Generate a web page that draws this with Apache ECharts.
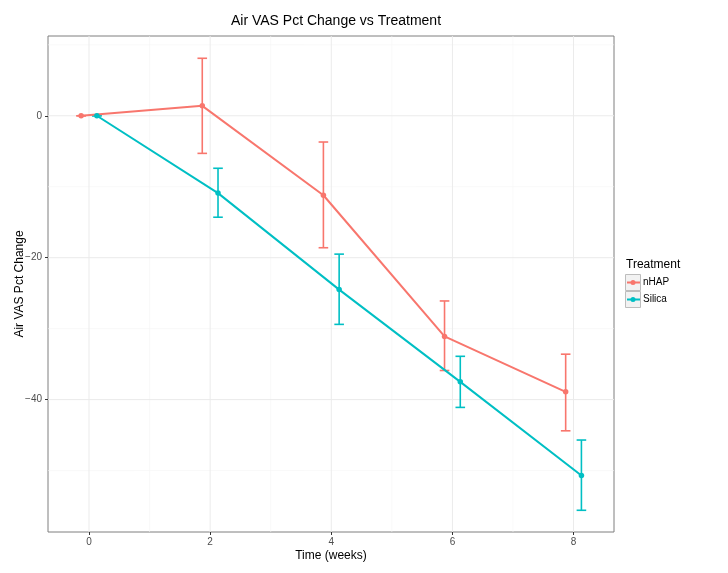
<!DOCTYPE html>
<html>
<head>
<meta charset="utf-8">
<script src="https://cdn.jsdelivr.net/npm/echarts@6/dist/echarts.min.js"></script>
<style>html,body{margin:0;padding:0;background:#fff}#c{width:728px;height:573px}</style>
</head>
<body>
<div id="c"></div>
<script>
// ---- data ----
const weeks = [0, 2, 4, 6, 8];
const treatments = ['nHAP', 'Silica'];
const nhapMean = [0, 1.4, -11.2, -31.1, -38.9];
const nhapLow  = [0, -5.3, -18.6, -35.9, -44.4];
const nhapHigh = [0, 8.1, -3.7, -26.1, -33.6];
const silicaMean = [0, -10.9, -24.5, -37.5, -50.7];
const silicaLow  = [0, -14.3, -29.4, -41.1, -55.6];
const silicaHigh = [0, -7.4, -19.5, -33.9, -45.7];
const xTicks = [0, 2, 4, 6, 8];
const xMinor = [1, 3, 5, 7];
const yTicks = [0, -20, -40];
const yMinor = [10, -10, -30, -50];

// ---- config ----
const colors = ['#F8766D', '#00BFC4'];
const dodge = [-0.13, 0.13];
const font = '"Liberation Sans", Arial, sans-serif';
const means = [nhapMean, silicaMean];
const lows = [nhapLow, silicaLow];
const highs = [nhapHigh, silicaHigh];

const gridData = [];
xMinor.forEach(v => gridData.push([v, 0, 0]));
yMinor.forEach(v => gridData.push([v, 1, 0]));
xTicks.forEach(v => gridData.push([v, 0, 1]));
yTicks.forEach(v => gridData.push([v, 1, 1]));

const series = [{
  type: 'custom',
  silent: true,
  z: 0,
  data: gridData,
  encode: { x: 0 },
  renderItem: function (params, api) {
    const v = api.value(0), dir = api.value(1), major = api.value(2);
    const cs = params.coordSys;
    let shape;
    if (dir === 0) {
      const p = api.coord([v, 0]);
      shape = { x1: p[0], y1: cs.y, x2: p[0], y2: cs.y + cs.height };
    } else {
      const p = api.coord([0, v]);
      shape = { x1: cs.x, y1: p[1], x2: cs.x + cs.width, y2: p[1] };
    }
    return { type: 'line', shape: shape,
      style: { stroke: major ? '#ebebeb' : '#f5f5f5', lineWidth: major ? 1 : 0.6 } };
  }
}];

treatments.forEach((name, i) => {
  series.push({
    name: name + ' err',
    type: 'custom',
    silent: true,
    z: 2,
    data: weeks.map((w, k) => [w + dodge[i], lows[i][k], highs[i][k]]),
    encode: { x: 0, y: [1, 2] },
    renderItem: function (params, api) {
      const lo = api.coord([api.value(0), api.value(1)]);
      const hi = api.coord([api.value(0), api.value(2)]);
      const hw = 4.8;
      const st = { stroke: colors[i], lineWidth: 1.6 };
      return { type: 'group', children: [
        { type: 'line', shape: { x1: lo[0], y1: lo[1], x2: hi[0], y2: hi[1] }, style: st },
        { type: 'line', shape: { x1: lo[0] - hw, y1: lo[1], x2: lo[0] + hw, y2: lo[1] }, style: st },
        { type: 'line', shape: { x1: hi[0] - hw, y1: hi[1], x2: hi[0] + hw, y2: hi[1] }, style: st }
      ] };
    }
  });
  series.push({
    name: name,
    type: 'line',
    z: 3,
    data: weeks.map((w, k) => [w + dodge[i], means[i][k]]),
    symbol: 'circle',
    symbolSize: 5.5,
    showSymbol: true,
    itemStyle: { color: colors[i] },
    lineStyle: { color: colors[i], width: 2 },
    emphasis: { disabled: true },
    animation: false
  });
});

// legend drawn as graphic, built from treatments
const graphics = [{
  type: 'text', left: 626, top: 259,
  style: { text: 'Treatment', font: '12px ' + font, fill: '#000' }
}];
treatments.forEach((name, i) => {
  const y0 = 274 + i * 17;
  graphics.push({ type: 'rect', shape: { x: 625.5, y: y0 + 0.5, width: 15, height: 16 },
    style: { fill: '#f2f2f2', stroke: '#bdbdbd', lineWidth: 1 } });
  graphics.push({ type: 'line', shape: { x1: 627, y1: y0 + 8.5, x2: 640, y2: y0 + 8.5 },
    style: { stroke: colors[i], lineWidth: 2 } });
  graphics.push({ type: 'circle', shape: { cx: 633, cy: y0 + 8.5, r: 2.5 },
    style: { fill: colors[i] } });
  graphics.push({ type: 'text', left: 643, top: y0 + 3,
    style: { text: name, font: '10px ' + font, fill: '#000' } });
});

const chart = echarts.init(document.getElementById('c'), null, { renderer: 'canvas' });
chart.setOption({
  animation: false,
  backgroundColor: '#fff',
  title: {
    text: 'Air VAS Pct Change vs Treatment',
    left: 331, top: 9, textAlign: 'center',
    textStyle: { fontFamily: font, fontSize: 14, fontWeight: 'normal', color: '#000' }
  },
  grid: { left: 48, right: 114, top: 36, bottom: 41, show: true,
    outerBoundsMode: 'none', containLabel: false,
    borderColor: '#7f7f7f', borderWidth: 1, backgroundColor: 'transparent' },
  xAxis: {
    type: 'value', min: -0.677, max: 8.668,
    name: 'Time (weeks)', nameLocation: 'middle', nameGap: 18, nameMoveOverlap: false,
    nameTextStyle: { fontFamily: font, fontSize: 12, color: '#000' },
    axisLine: { show: false, onZero: false },
    axisTick: { show: true, length: 3, customValues: xTicks, lineStyle: { color: '#333', width: 1 } },
    axisLabel: { customValues: xTicks, color: '#4d4d4d', fontFamily: font, fontSize: 10, margin: 5 },
    splitLine: { show: false }
  },
  yAxis: {
    type: 'value', min: -58.66, max: 11.24,
    name: 'Air VAS Pct Change', nameLocation: 'middle', nameGap: 22, nameMoveOverlap: false,
    nameTextStyle: { fontFamily: font, fontSize: 12, color: '#000' },
    axisLine: { show: false, onZero: false },
    axisTick: { show: true, length: 3, customValues: yTicks, lineStyle: { color: '#333', width: 1 } },
    axisLabel: { customValues: yTicks, color: '#4d4d4d', fontFamily: font, fontSize: 10, margin: 6,
      formatter: v => (v < 0 ? '\u2212' + Math.abs(v) : String(v)) },
    splitLine: { show: false }
  },
  series: series,
  graphic: graphics
});
</script>
</body>
</html>
